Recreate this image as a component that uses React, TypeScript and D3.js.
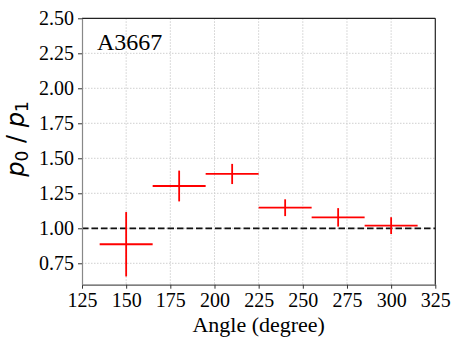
import React, { useEffect, useRef } from 'react';
import * as d3 from 'd3';

// measured points
const angles = [150, 180, 210, 240, 270, 300];
const angleErr = [15, 15, 15, 15, 15, 15];
const ratio = [0.886, 1.302, 1.388, 1.147, 1.078, 1.019];
const ratioErr = [0.23, 0.11, 0.072, 0.06, 0.066, 0.06];
const xTicks = [125, 150, 175, 200, 225, 250, 275, 300, 325];
const yTicks = [0.75, 1.0, 1.25, 1.5, 1.75, 2.0, 2.25, 2.5];

const App = () => {
  const ref = useRef<SVGSVGElement>(null);

  useEffect(() => {
    const svg = d3.select(ref.current);
    svg.selectAll('*').remove();

    const left = 82, right = 435.3, top = 18.3, bottom = 284.7;
    const x = d3.scaleLinear().domain([125, 325]).range([left, right]);
    const y = d3.scaleLinear().domain([0.597, 2.5]).range([bottom, top]);
    const serif = 'Liberation Serif, Times New Roman, serif';

    // grid
    const grid = svg.append('g').attr('stroke', '#cfcfcf').attr('stroke-width', 1).attr('stroke-dasharray', '1.5,1.5');
    grid.selectAll('line.gx').data(xTicks.slice(1, -1)).enter().append('line')
      .attr('x1', d => x(d)).attr('x2', d => x(d)).attr('y1', top).attr('y2', bottom);
    grid.selectAll('line.gy').data(yTicks.slice(0, -1)).enter().append('line')
      .attr('x1', left).attr('x2', right).attr('y1', d => y(d)).attr('y2', d => y(d));

    // reference line at 1
    svg.append('line')
      .attr('x1', left).attr('x2', right).attr('y1', y(1)).attr('y2', y(1))
      .attr('stroke', '#111').attr('stroke-width', 1.8).attr('stroke-dasharray', '6.5,3');

    // error bars
    const bars = svg.append('g').attr('stroke', '#ff0000').attr('stroke-width', 1.8);
    angles.forEach((a, i) => {
      bars.append('line')
        .attr('x1', x(a - angleErr[i])).attr('x2', x(a + angleErr[i]))
        .attr('y1', y(ratio[i])).attr('y2', y(ratio[i]));
      bars.append('line')
        .attr('x1', x(a)).attr('x2', x(a))
        .attr('y1', y(ratio[i] - ratioErr[i])).attr('y2', y(ratio[i] + ratioErr[i]));
    });

    // spines
    svg.append('line').attr('x1', left).attr('x2', right).attr('y1', top).attr('y2', top).attr('stroke', '#222').attr('stroke-width', 1.2);
    svg.append('line').attr('x1', right).attr('x2', right).attr('y1', top).attr('y2', bottom).attr('stroke', '#222').attr('stroke-width', 1.2);

    // axes
    const xAxis = svg.append('g').attr('transform', `translate(0,${bottom})`)
      .call(d3.axisBottom(x).tickValues(xTicks).tickSize(4).tickSizeOuter(0).tickPadding(4));
    xAxis.select('.domain').attr('stroke', '#555').attr('stroke-width', 1.2);
    xAxis.selectAll('.tick line').attr('stroke', '#333');
    xAxis.selectAll('text').attr('font-family', serif).attr('font-size', 20).attr('fill', '#000');

    const yAxis = svg.append('g').attr('transform', `translate(${left},0)`)
      .call(d3.axisLeft(y).tickValues(yTicks).tickFormat(d3.format('.2f')).tickSize(4).tickSizeOuter(0).tickPadding(4));
    yAxis.select('.domain').attr('stroke', '#888').attr('stroke-width', 1.2);
    yAxis.selectAll('.tick line').attr('stroke', '#333');
    yAxis.selectAll('text').attr('font-family', serif).attr('font-size', 20).attr('fill', '#000');

    // labels
    svg.append('text')
      .attr('x', (left + right) / 2).attr('y', 332)
      .attr('text-anchor', 'middle').attr('font-family', serif).attr('font-size', 22)
      .text('Angle (degree)');

    const yl = svg.append('text')
      .attr('transform', 'translate(24,139) rotate(-90)')
      .attr('text-anchor', 'middle').attr('font-family', 'DejaVu Sans, sans-serif').attr('font-size', 24);
    yl.append('tspan').attr('font-style', 'italic').text('p');
    yl.append('tspan').attr('font-size', 17).attr('dy', 4).text('0');
    yl.append('tspan').attr('dy', -4).text(' / ');
    yl.append('tspan').attr('font-style', 'italic').text('p');
    yl.append('tspan').attr('font-size', 17).attr('dy', 4).text('1');

    svg.append('text')
      .attr('x', 97).attr('y', 50)
      .attr('font-family', serif).attr('font-size', 24)
      .text('A3667');
  }, []);

  return (
    <svg ref={ref} width={463} height={347}
      style={{ position: 'absolute', left: 0, top: 0, background: '#fff' }} />
  );
};

export default App;
